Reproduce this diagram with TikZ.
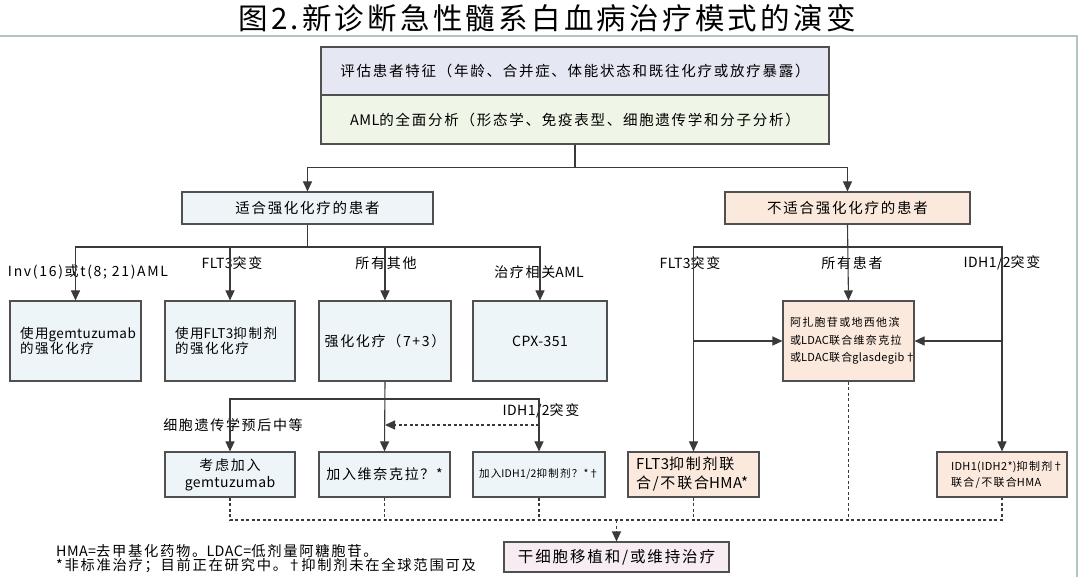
\documentclass[tikz,border=0pt]{standalone}
\usepackage{fontspec}
\setmainfont{Noto Sans CJK SC}[LetterSpace=12]
\newfontfamily\titlefont{Noto Sans CJK SC}[LetterSpace=11]
\newfontfamily\nls{Noto Sans CJK SC}[LetterSpace=3]
\usetikzlibrary{arrows.meta}
\definecolor{linec}{HTML}{3A3A3A}
\definecolor{boxline}{HTML}{505050}
\definecolor{framec}{HTML}{B2C6C0}
\definecolor{lavc}{HTML}{E5E7F3}
\definecolor{greenc}{HTML}{EFF6E7}
\definecolor{bluec}{HTML}{EEF5F9}
\definecolor{peachc}{HTML}{FBE9DD}
\definecolor{pinkc}{HTML}{F6ECF2}
\newcommand\fs[2]{\fontsize{#1}{#2}\selectfont}
\begin{document}
\begin{tikzpicture}[x=1pt,y=-1pt,
  box/.style={draw=boxline, line width=1.1pt, inner sep=2pt, align=center, text=black},
  lbl/.style={inner sep=0pt, font=\fs{14}{17}, text=black},
  arr/.style={draw=linec, line width=1.1pt, -{Triangle[width=9pt,length=10pt]}},
  conn/.style={draw=linec, line width=1.1pt},
  dline/.style={draw=linec, line width=1.1pt, dash pattern=on 3pt off 2.5pt},
  darr/.style={dline, -{Triangle[width=9pt,length=10pt]}}
]
\useasboundingbox (0,0) rectangle (1080,577);
% frame
\draw[framec, line width=1.6pt] (0,36) -- (1077,36) -- (1077,577);
% title
\node[inner sep=0pt, font=\titlefont\fs{29.5}{34}] (title) at (547,18) {图2.新诊断急性髓系白血病治疗模式的演变};

% top boxes
\node[box, fill=lavc, minimum width=508pt, minimum height=48pt, font=\fs{14.5}{17}] (b1) at (575,71) {评估患者特征（年龄、合并症、体能状态和既往化疗或放疗暴露）};
\node[box, fill=greenc, minimum width=508pt, minimum height=49pt, font=\fs{14.5}{17}] (b2) at (575,119.5) {{\nls AML}的全面分析（形态学、免疫表型、细胞遗传学和分子分析）};

% fit / unfit
\node[box, fill=bluec, minimum width=251pt, minimum height=32pt, font=\fs{14.5}{17}] (fit) at (307.5,208) {适合强化化疗的患者};
\node[box, fill=peachc, minimum width=245pt, minimum height=32pt, font=\fs{14.5}{17}] (unfit) at (847.5,208) {不适合强化化疗的患者};

% intensive branch boxes
\node[box, fill=bluec, minimum width=131pt, minimum height=80pt, inner xsep=10pt, text width=111pt, align=left, font=\fs{13.5}{15.5}] (g1) at (75.5,341) {使用{\nls gemtuzumab}\\的强化化疗};
\node[box, fill=bluec, minimum width=130pt, minimum height=80pt, inner xsep=10pt, text width=110pt, align=left, font=\fs{13.5}{15.5}] (g2) at (230,341) {使用{\nls FLT3}抑制剂\\的强化化疗};
\node[box, fill=bluec, minimum width=132pt, minimum height=80pt, font=\fs{14}{17}] (g3) at (385,341) {强化化疗（7+3）};
\node[box, fill=bluec, minimum width=134pt, minimum height=80pt, font=\fs{14}{17}] (g4) at (540,341) {{\nls CPX-351}};

% non-intensive center
\node[box, fill=peachc, minimum width=131pt, minimum height=80pt, inner xsep=7pt, text width=117pt, align=left, font=\fs{11}{17.5}] (c) at (848.5,341) {阿扎胞苷或地西他滨\\或{\nls LDAC}联合维奈克拉\\或{\nls LDAC}联合{\nls glasdegib†}};

% second level
\node[box, fill=bluec, minimum width=130pt, minimum height=45pt, font=\fs{14}{17}] (h1) at (230,474.5) {考虑加入\\{\nls gemtuzumab}};
\node[box, fill=bluec, minimum width=131pt, minimum height=45pt, font=\fs{14}{17}] (h2) at (384.5,474.5) {加入维奈克拉？*};
\node[box, fill=bluec, minimum width=132pt, minimum height=45pt, font=\fs{10.5}{13}] (h3) at (539,474.5) {加入{\nls IDH1/2}抑制剂？*{\nls †}};
\node[box, fill=peachc, minimum width=131pt, minimum height=45pt, inner xsep=8pt, text width=115pt, align=left, font=\fs{15}{19}] (r1) at (693.5,474.5) {{\nls FLT3}抑制剂联\\合/不联合{\nls HMA*}};
\node[box, fill=peachc, minimum width=130pt, minimum height=45pt, inner xsep=14pt, text width=102pt, align=left, font=\fs{11}{16}] (r2) at (1002,474.5) {{\nls IDH1(IDH2*)}抑制剂{\nls †}\\联合/不联合{\nls HMA}};

% final box
\node[box, fill=pinkc, minimum width=225pt, minimum height=30pt, font=\fs{15.5}{18}] (sct) at (616.5,557) {干细胞移植和/或维持治疗};

% labels
\node[lbl] (lInv) at (88,272) {Inv(16)或t(8; 21)AML};
\node[lbl] (lFlt) at (232,263) {{\nls FLT3}突变};
\node[lbl] (lAll) at (386,263) {所有其他};
\node[lbl] (lTr) at (539,272) {治疗相关{\nls AML}};
\node[lbl] (lFlt2) at (690,263) {{\nls FLT3}突变};
\node[lbl] (lAllP) at (852,263) {所有患者};
\node[lbl] (lIdh) at (1002,263) {{\nls IDH1/2}突变};
\node[lbl] (lCyto) at (233,425) {细胞遗传学预后中等};
\node[lbl] (lIdh2) at (541,411) {{\nls IDH1/2}突变};

% connectors top
\draw[arr] (b2.south) -- ++(0,23) -| (fit.north);
\draw[arr] (b2.south) -- ++(0,23) -| (unfit.north);

% intensive branches
\draw[conn] (fit.south) -- (fit.south |- 0,247);
\draw[arr] (fit.south |- 0,247) -| (g1.north);
\draw[arr] (fit.south |- 0,247) -| (g2.north);
\draw[arr] (fit.south |- 0,247) -| (g3.north);
\draw[arr] (fit.south |- 0,247) -| (g4.north);

% second level
\draw[arr] (g3.south) -- (h2.north);
\draw[arr] (g3.south |- 0,399) -| (h1.north);
\draw[arr] (g3.south |- 0,399) -| (h3.north);
\draw[darr] (h3.north |- 0,425) -- (g3.south |- 0,425);

% non-intensive
\draw[arr] (unfit.south) -- (c.north);
\draw[arr] (unfit.south |- 0,247) -| (r1.north);
\draw[arr] (unfit.south |- 0,247) -| (r2.north);
\draw[arr] (r1.north |- c.west) -- (c.west);
\draw[arr] (r2.north |- c.east) -- (c.east);

% dashed bottom
\draw[dline] (h1.south) |- (r2.south |- 0,520) -- (r2.south);
\draw[dline] (h2.south) -- (h2.south |- 0,520);
\draw[dline] (h3.south) -- (h3.south |- 0,520);
\draw[dline] (r1.south) -- (r1.south |- 0,520);
\draw[dline] (c.south) -- (c.south |- 0,520);
\draw[darr] (sct.north |- 0,520) -- (sct.north);

% footnotes
\node[inner sep=0pt, anchor=west, font=\fs{14.3}{17}] (fn1) at (56,551) {{\nls HMA=}去甲基化药物。{\nls LDAC=}低剂量阿糖胞苷。};
\node[inner sep=0pt, anchor=west, font=\fs{14.3}{17}] (fn2) at (56,566) {*非标准治疗；目前正在研究中。{\nls †}抑制剂未在全球范围可及};
\end{tikzpicture}
\end{document}
